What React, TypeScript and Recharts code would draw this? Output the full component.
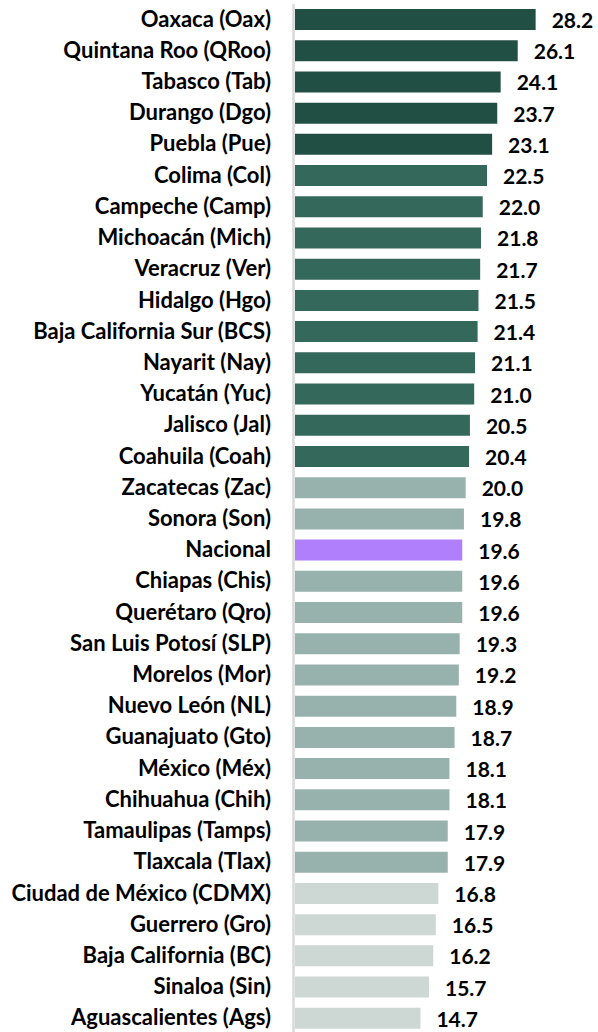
import React from "react";
import { BarChart, Bar, XAxis, YAxis, Cell, LabelList } from "recharts";

const estados = [
  "Oaxaca (Oax)",
  "Quintana Roo (QRoo)",
  "Tabasco (Tab)",
  "Durango (Dgo)",
  "Puebla (Pue)",
  "Colima (Col)",
  "Campeche (Camp)",
  "Michoacán (Mich)",
  "Veracruz (Ver)",
  "Hidalgo (Hgo)",
  "Baja California Sur (BCS)",
  "Nayarit (Nay)",
  "Yucatán (Yuc)",
  "Jalisco (Jal)",
  "Coahuila (Coah)",
  "Zacatecas (Zac)",
  "Sonora (Son)",
  "Nacional",
  "Chiapas (Chis)",
  "Querétaro (Qro)",
  "San Luis Potosí (SLP)",
  "Morelos (Mor)",
  "Nuevo León (NL)",
  "Guanajuato (Gto)",
  "México (Méx)",
  "Chihuahua (Chih)",
  "Tamaulipas (Tamps)",
  "Tlaxcala (Tlax)",
  "Ciudad de México (CDMX)",
  "Guerrero (Gro)",
  "Baja California (BC)",
  "Sinaloa (Sin)",
  "Aguascalientes (Ags)",
];

const valores = [
  28.2, 26.1, 24.1, 23.7, 23.1, 22.5, 22.0, 21.8, 21.7, 21.5, 21.4, 21.1, 21.0,
  20.5, 20.4, 20.0, 19.8, 19.6, 19.6, 19.6, 19.3, 19.2, 18.9, 18.7, 18.1, 18.1,
  17.9, 17.9, 16.8, 16.5, 16.2, 15.7, 14.7,
];

// nivel de cada entidad
const niveles = [
  "alto", "alto", "alto", "alto", "alto",
  "medio", "medio", "medio", "medio", "medio", "medio", "medio", "medio", "medio", "medio",
  "bajo", "bajo", "nacional", "bajo", "bajo", "bajo", "bajo", "bajo", "bajo", "bajo", "bajo", "bajo", "bajo",
  "muyBajo", "muyBajo", "muyBajo", "muyBajo", "muyBajo",
];

const colores: Record<string, string> = {
  alto: "#224f44",
  medio: "#34685b",
  bajo: "#97b2ac",
  nacional: "#b080fc",
  muyBajo: "#cdd8d5",
};

const data = estados.map((nombre, i) => ({ nombre, valor: valores[i], nivel: niveles[i] }));

const FONT = "Lato, 'Noto Sans', sans-serif";

const renderValor = (props: any) => {
  const { x, y, width, height, value } = props;
  return (
    <text
      x={Number(x) + Number(width) + 16}
      y={Number(y) + Number(height) / 2}
      dominantBaseline="central"
      fontFamily={FONT}
      fontWeight={700}
      fontSize={21}
      fill="#000"
    >
      {Number(value).toFixed(1)}
    </text>
  );
};

const EstadoTick = (props: any) => {
  const { x, y, payload } = props;
  return (
    <text
      x={x}
      y={y - 1.5}
      textAnchor="end"
      dominantBaseline="central"
      fontFamily={FONT}
      fontWeight={700}
      fontSize={22}
      fill="#000"
    >
      {payload.value}
    </text>
  );
};

export default function App() {
  return (
    <div style={{ position: "absolute", left: 0, top: 0, width: 598, height: 1032, overflow: "hidden", background: "#fff" }}>
      <BarChart
        width={598}
        height={1034}
        data={data}
        layout="vertical"
        margin={{ top: 4, right: 47, bottom: 0, left: 0 }}
      >
        <XAxis type="number" domain={[0, 30]} hide />
        <YAxis
          type="category"
          dataKey="nombre"
          width={295}
          interval={0}
          tickLine={false}
          tickSize={0}
          tickMargin={24}
          axisLine={{ stroke: "#d9d9d9", strokeWidth: 2.5, transform: "translate(-1.5,0)" }}
          tick={<EstadoTick />}
        />
        <Bar dataKey="valor" barSize={21} isAnimationActive={false}>
          {data.map((d, i) => (
            <Cell key={i} fill={colores[d.nivel]} />
          ))}
          <LabelList dataKey="valor" content={renderValor} />
        </Bar>
      </BarChart>
    </div>
  );
}
